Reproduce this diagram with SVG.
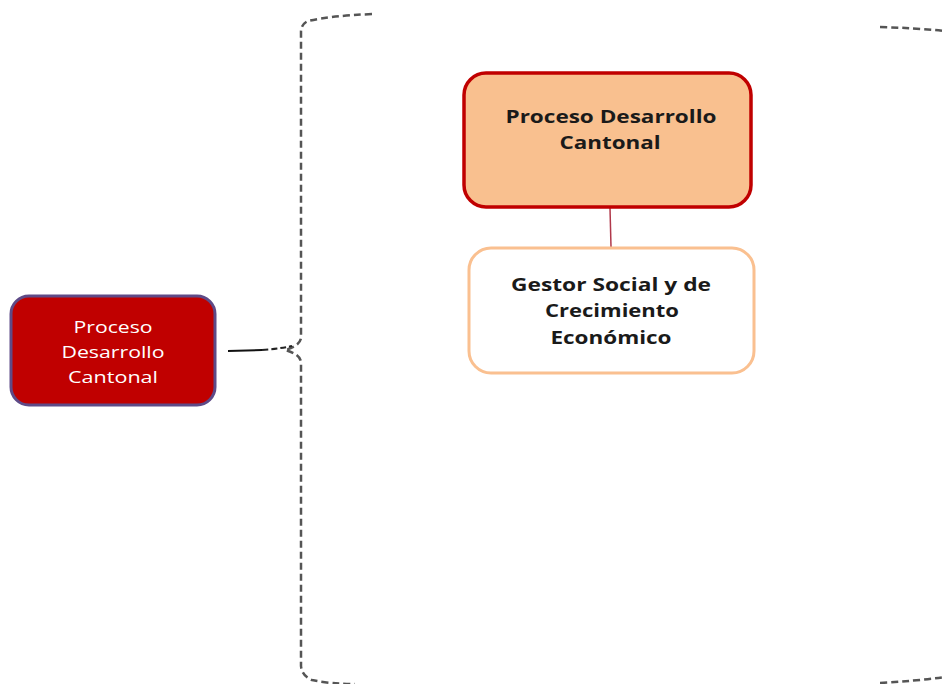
<svg xmlns="http://www.w3.org/2000/svg" width="945" height="684" viewBox="0 0 945 684">
<style>
.t{font-family:"Open Sans","Liberation Sans",sans-serif;text-anchor:middle}
.w{fill:#ffffff;font-size:16px}
.b{fill:#1a1a1a;font-size:18px;font-weight:bold}
.dash{fill:none;stroke:#555;stroke-width:2.5;stroke-dasharray:7 4}
</style>
<rect width="945" height="684" fill="#ffffff"/>
<g id="connectors">
<path class="dash" d="M372,14 Q330,16 308,21 Q301,24 301,32 L301,338 Q300,346 285,350 Q300,354 301,362 L301,666 Q302,676 312,680 Q330,684 355,684"/>
<path class="dash" d="M880,27 Q915,28 945,31"/>
<path class="dash" d="M880,683 Q915,681 945,677"/>
<line x1="228" y1="351" x2="262" y2="350" stroke="#111" stroke-width="2"/>
<path d="M262,350 Q278,349 292,346" fill="none" stroke="#222" stroke-width="2" stroke-dasharray="6 3"/>
<line x1="610" y1="208" x2="611" y2="247" stroke="#B0384A" stroke-width="1.5"/>
</g>
<g id="node-left">
<rect x="11" y="296" width="204" height="109" rx="18" fill="#C00000" stroke="#5E4A87" stroke-width="3"/>
<text class="t w" x="113" y="333" textLength="79" lengthAdjust="spacingAndGlyphs">Proceso</text>
<text class="t w" x="113" y="358" textLength="103" lengthAdjust="spacingAndGlyphs">Desarrollo</text>
<text class="t w" x="113" y="383" textLength="90" lengthAdjust="spacingAndGlyphs">Cantonal</text>
</g>
<g id="node-top">
<rect x="464" y="73" width="287" height="134" rx="22" fill="#F9C08F" stroke="#C00000" stroke-width="3.5"/>
<text class="t b" x="611" y="123" textLength="211" lengthAdjust="spacingAndGlyphs">Proceso Desarrollo</text>
<text class="t b" x="610" y="149" textLength="101" lengthAdjust="spacingAndGlyphs">Cantonal</text>
</g>
<g id="node-bottom">
<rect x="469" y="248" width="285" height="125" rx="22" fill="#ffffff" stroke="#FAC090" stroke-width="3"/>
<text class="t b" x="611" y="291" textLength="200" lengthAdjust="spacingAndGlyphs">Gestor Social y de</text>
<text class="t b" x="612" y="317" textLength="134" lengthAdjust="spacingAndGlyphs">Crecimiento</text>
<text class="t b" x="611" y="344" textLength="121" lengthAdjust="spacingAndGlyphs">Económico</text>
</g>
</svg>
